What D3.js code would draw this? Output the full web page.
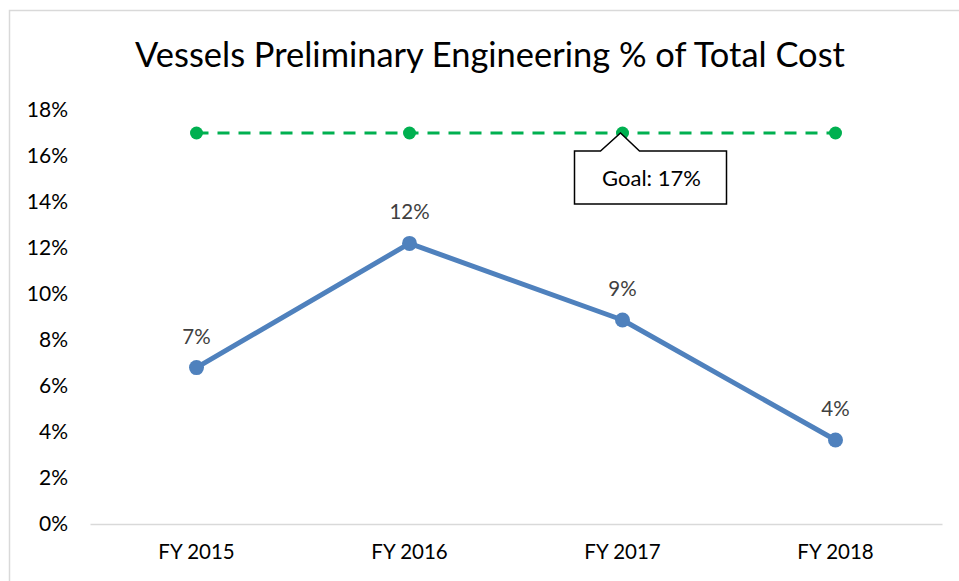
<!DOCTYPE html>
<html>
<head>
<meta charset="utf-8">
<script src="https://cdn.jsdelivr.net/npm/d3@7"></script>
<style>
  body { margin: 0; background: #fff; overflow: hidden; }
  svg { display: block; font-family: Lato, "Open Sans", sans-serif; }
</style>
</head>
<body>
<svg id="chart" width="959" height="581"></svg>
<script>
// данные графика
const categories = ["FY 2015", "FY 2016", "FY 2017", "FY 2018"];
const actualValues = [0.068, 0.122, 0.0887, 0.0365];
const valueLabels = ["7%", "12%", "9%", "4%"];
const goalValues = [0.17, 0.17, 0.17, 0.17];
const goalLabel = "Goal: 17%";
const yTicks = [0, 0.02, 0.04, 0.06, 0.08, 0.1, 0.12, 0.14, 0.16, 0.18];
const title = "Vessels Preliminary Engineering % of Total Cost";

const svg = d3.select("#chart");

const attr_area = {
  left: 90,
  right: 942,
  top: 110,
  bottom: 524,
};

// рамка области диаграммы (видны только верх и левый край)
svg
  .append("path")
  .attr("d", "M9.5,581V10.5H959")
  .style("fill", "none")
  .style("stroke", "#d9d9d9")
  .style("stroke-width", 1.5);

const titleText = svg
  .append("text")
  .attr("x", 490)
  .attr("y", 67)
  .attr("text-anchor", "middle")
  .style("font-size", "32px")
  .style("fill", "#000")
  .text(title);
// подгоняем ширину заголовка
const tw = titleText.node().getComputedTextLength();
titleText.style("font-size", (32 * 710) / tw + "px");

const scX = d3
  .scaleBand()
  .domain(categories)
  .range([attr_area.left, attr_area.right]);

const scY = d3
  .scaleLinear()
  .domain([0, 0.18])
  .range([attr_area.bottom, attr_area.top]);

const cx = (i) => scX(categories[i]) + scX.bandwidth() / 2;

// ось Y - только подписи
const axisY = d3
  .axisLeft(scY)
  .tickValues(yTicks)
  .tickFormat(d3.format(".0%"))
  .tickSize(0)
  .tickPadding(0);

const gY = svg
  .append("g")
  .attr("transform", `translate(68, 0)`)
  .call(axisY);
gY.select(".domain").remove();
gY.selectAll("text")
  .style("font-family", "Lato, sans-serif")
  .style("font-size", "21px")
  .style("fill", "#000");

// ось X
const axisX = d3.axisBottom(scX).tickSize(0).tickPadding(20);
const gX = svg
  .append("g")
  .attr("transform", `translate(0, ${attr_area.bottom})`)
  .call(axisX);
gX.select(".domain").style("stroke", "#d9d9d9").style("stroke-width", 1.5);
gX.selectAll("text")
  .style("font-family", "Lato, sans-serif")
  .style("font-size", "20.5px")
  .style("fill", "#000");

// линия цели
const lineGen = d3
  .line()
  .x((d, i) => cx(i))
  .y((d) => scY(d));

svg
  .append("path")
  .datum(goalValues)
  .attr("d", lineGen)
  .style("fill", "none")
  .style("stroke", "#00b050")
  .style("stroke-width", 3)
  .style("stroke-dasharray", "12,9");

svg
  .selectAll(".dot-goal")
  .data(goalValues)
  .enter()
  .append("circle")
  .attr("class", "dot-goal")
  .attr("cx", (d, i) => cx(i))
  .attr("cy", (d) => scY(d))
  .attr("r", 6.5)
  .style("fill", "#00b050");

// основная линия
svg
  .append("path")
  .datum(actualValues)
  .attr("d", lineGen)
  .style("fill", "none")
  .style("stroke", "#4f81bd")
  .style("stroke-width", 5)
  .style("stroke-linejoin", "round");

svg
  .selectAll(".dot-actual")
  .data(actualValues)
  .enter()
  .append("circle")
  .attr("class", "dot-actual")
  .attr("cx", (d, i) => cx(i))
  .attr("cy", (d) => scY(d))
  .attr("r", 7.5)
  .style("fill", "#4f81bd");

svg
  .selectAll(".label-actual")
  .data(actualValues)
  .enter()
  .append("text")
  .attr("class", "label-actual")
  .attr("x", (d, i) => cx(i))
  .attr("y", (d) => scY(d) - 24)
  .attr("text-anchor", "middle")
  .style("font-size", "20.5px")
  .style("fill", "#404040")
  .text((d, i) => valueLabels[i]);

// выноска "Goal"
const tipX = cx(2);
const tipY = scY(goalValues[2]);
const box = { l: tipX - 48, r: tipX + 104, t: tipY + 18, b: tipY + 71 };
const callout = d3.path();
callout.moveTo(box.l, box.t);
callout.lineTo(tipX - 22, box.t);
callout.lineTo(tipX - 2, tipY);
callout.lineTo(tipX + 17, box.t);
callout.lineTo(box.r, box.t);
callout.lineTo(box.r, box.b);
callout.lineTo(box.l, box.b);
callout.closePath();

svg
  .append("path")
  .attr("d", callout.toString())
  .style("fill", "#fff")
  .style("stroke", "#000")
  .style("stroke-width", 1.5);

svg
  .append("text")
  .attr("x", (box.l + box.r) / 2 + 1)
  .attr("y", (box.t + box.b) / 2 + 8)
  .attr("text-anchor", "middle")
  .style("font-size", "22px")
  .style("fill", "#000")
  .text(goalLabel);
</script>
</body>
</html>
